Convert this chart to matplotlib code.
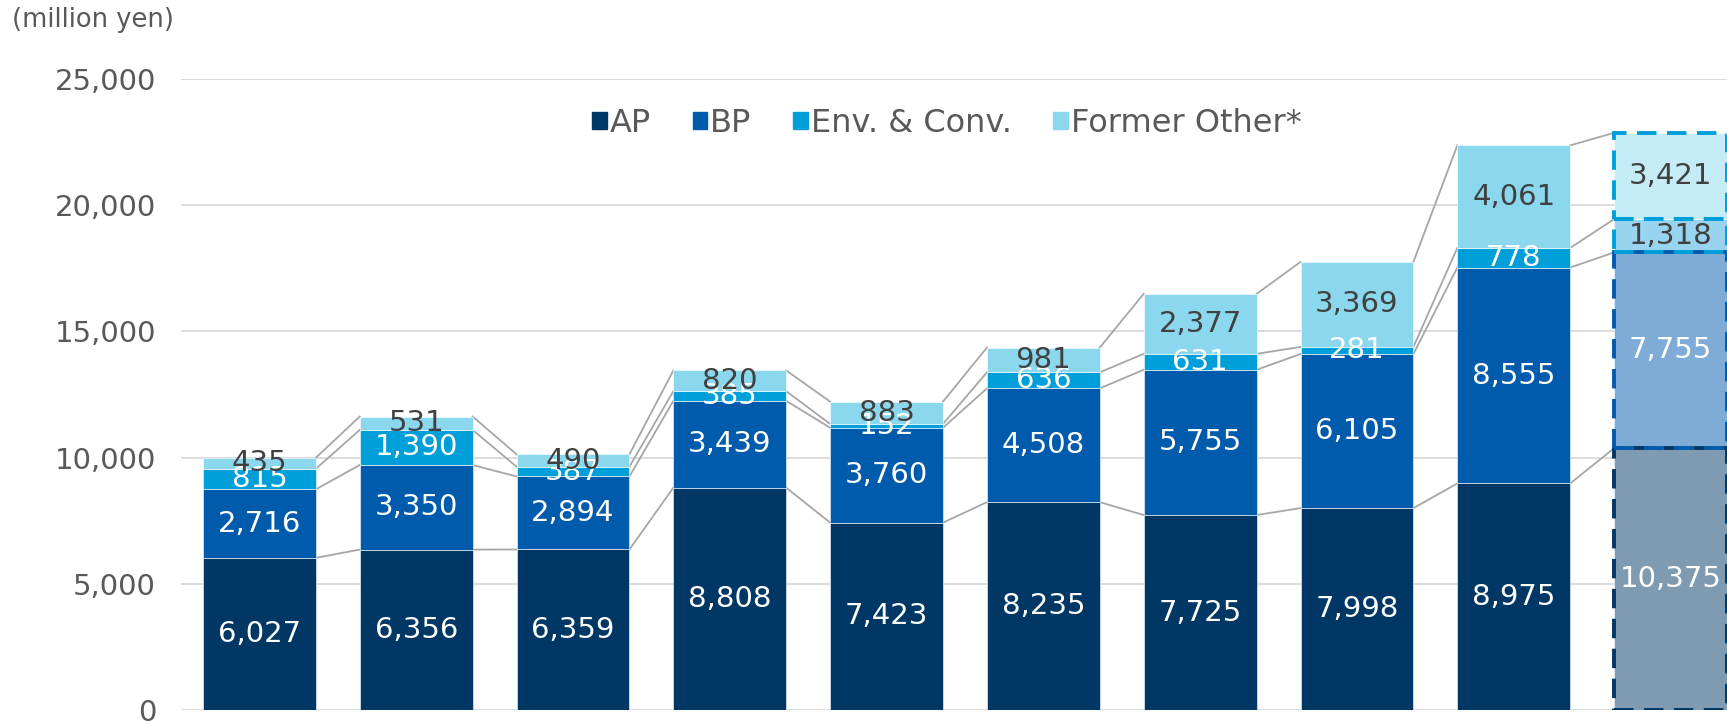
import numpy as np
import matplotlib.pyplot as plt

# Segment values, bottom to top (10 bars, last one is the forecast)
ap = [6027, 6356, 6359, 8808, 7423, 8235, 7725, 7998, 8975, 10375]
bp = [2716, 3350, 2894, 3439, 3760, 4508, 5755, 6105, 8555, 7755]
env = [815, 1390, 387, 385, 152, 636, 631, 281, 778, 1318]
other = [435, 531, 490, 820, 883, 981, 2377, 3369, 4061, 3421]
names = ['AP', 'BP', 'Env. & Conv.', 'Former Other*']

colors = ['#003764', '#005BAC', '#009FD9', '#8BD8EE']
faded = ['#7F9BB2', '#7FACD6', '#98D4EF', '#C5EBF6']
edges = ['#003764', '#005BAC', '#009FD9', '#009FD9']
text_cols = ['white', 'white', 'white', '#404040']
faded_text = ['white', 'white', '#404040', '#404040']

plt.rcParams['font.family'] = ['DejaVu Sans']

series = [ap, bp, env, other]
n = len(ap)
x = np.arange(n)
w = 0.72

fig = plt.figure(figsize=(17.27, 7.22), dpi=100)
ax = fig.add_axes([181 / 1727, 12 / 722, 1 - 181 / 1727, (710 - 79) / 722])

bottom = np.zeros(n)
tops = []
for k, vals in enumerate(series):
    vals = np.array(vals, dtype=float)
    fc = [colors[k]] * (n - 1) + [faded[k]]
    ax.bar(x, vals, w, bottom=bottom, color=fc, edgecolor='white', linewidth=0.4, zorder=3)
    # dashed outline on the forecast bar
    ax.bar(x[-1], vals[-1], w, bottom=bottom[-1], fill=False, edgecolor=edges[k],
           linewidth=2.8, linestyle=(0, (5, 2.7)), zorder=4)
    for i in range(n):
        c = faded_text[k] if i == n - 1 else text_cols[k]
        ax.text(x[i], bottom[i] + vals[i] / 2, f'{int(vals[i]):,}', ha='center', va='center',
                fontsize=21, color=c, zorder=5)
    bottom = bottom + vals
    tops.append(bottom.copy())

# connector lines between the cumulative tops
for lvl in tops:
    for i in range(n - 1):
        ax.plot([x[i] + w / 2, x[i + 1] - w / 2], [lvl[i], lvl[i + 1]],
                color='#A6A6A6', linewidth=1.3, zorder=2)

ax.set_xlim(-0.5, 9.36)
ax.set_ylim(0, 25000)
ax.set_yticks(np.arange(0, 25001, 5000))
ax.set_yticklabels([f'{v:,}' for v in range(0, 25001, 5000)])
ax.tick_params(axis='y', length=0, pad=18, labelsize=21, labelcolor='#595959')
ax.set_xticks([])
ax.grid(axis='y', color='#D9D9D9', linewidth=1.3, zorder=0)
for s in ax.spines.values():
    s.set_visible(False)

handles = [plt.Rectangle((0, 0), 1, 1, color=c) for c in colors]
ax.legend(handles, names, loc='center', bbox_to_anchor=(947 / 1727, 1 - 123 / 722),
          bbox_transform=fig.transFigure, ncol=4, frameon=False, fontsize=23,
          labelcolor='#595959', handlelength=0.45, handleheight=0.45,
          handletextpad=0.1, columnspacing=1.3)

fig.text(12 / 1727, 1 - 20 / 722, '(million yen)', fontsize=18.5, color='#595959',
         ha='left', va='center')

fig.savefig('out.png', dpi=100)
